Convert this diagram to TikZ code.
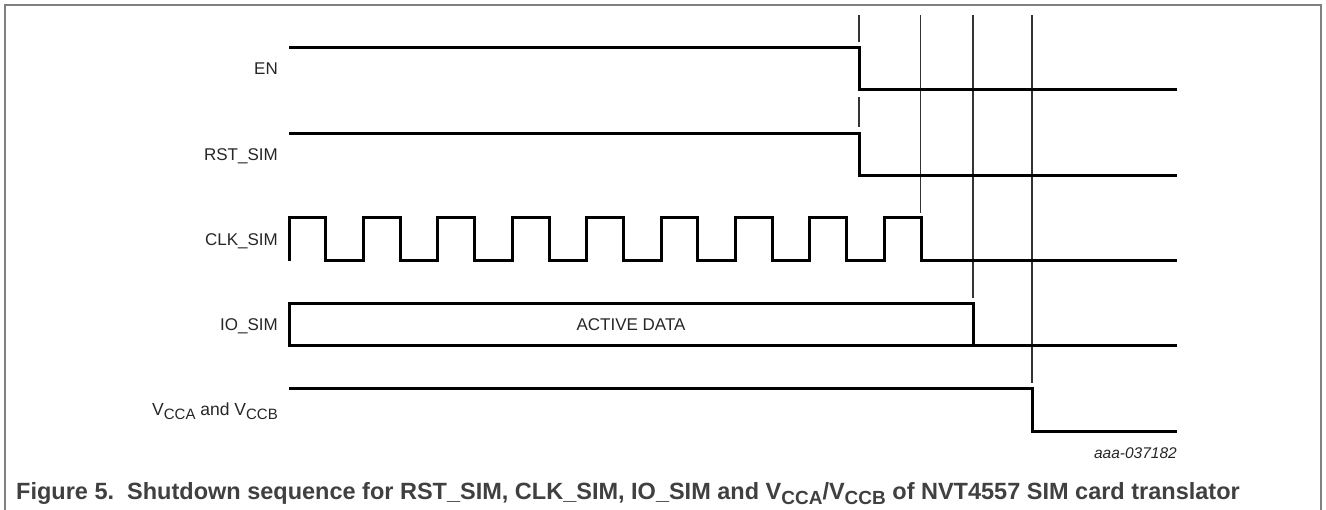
\documentclass[tikz,border=0pt]{standalone}
\usepackage{fontspec}
\setmainfont{Liberation Sans}
\newcommand\lowsub[3]{\raisebox{-#1}{\fontsize{#2}{#2}\selectfont #3}}
\begin{document}
\begin{tikzpicture}[x=1pt,y=-1pt,
  sig/.style={line width=3pt, line join=miter, black},
  markline/.style={line width=1.2pt, black!80},
  lbl/.style={anchor=base east, inner sep=0pt, text=black!85, font=\fontsize{17}{20}\selectfont},
  txt/.style={inner sep=0pt, text=black!85, font=\fontsize{17}{20}\selectfont}
]
\useasboundingbox (0,0) rectangle (1326,510);
% frame
\draw[gray, line width=1.5pt] (5,510) -- (5,5) -- (1321,5) -- (1321,510);
% time markers
\draw[markline] (859,15) -- (859,42);
\draw[markline] (859,97) -- (859,127);
\draw[markline] (920.5,15) -- (920.5,213);
\draw[markline] (973,15) -- (973,298);
\draw[markline] (1032,15) -- (1032,383);
% EN
\draw[sig] (289,47.5) -- (859,47.5) -- (859,89.5) -- (1177,89.5);
% RST_SIM
\draw[sig] (289,133.5) -- (859,133.5) -- (859,176) -- (1177,176);
% CLK_SIM
\draw[sig] (289,261) -- (289,218)
  \foreach \k in {0,...,7} { -- ++(36.8,0) -- ++(0,43) -- ++(37.6,0) -- ++(0,-43) }
  -- ++(36.8,0) -- ++(0,43) -- (1177,261);
% IO_SIM
\draw[sig] (973,346) -- (973,303.5) -- (289,303.5) -- (289,346) -- (1177,346);
% VCC
\draw[sig] (289,389) -- (1032,389) -- (1032,431.5) -- (1177,431.5);
% labels
\node[lbl] (en) at (278,74.5) {EN};
\node[lbl] (rst) at (278,161) {RST\_SIM};
\node[lbl] (clk) at (278,246) {CLK\_SIM};
\node[lbl] (io) at (278,331) {IO\_SIM};
\node[lbl, font=\fontsize{17.5}{20}\selectfont] (vcc) at (278,416) {V\lowsub{4pt}{15}{CCA} and V\lowsub{4pt}{15}{CCB}};
\node[txt, anchor=base] (ad) at (631,331) {ACTIVE DATA};
\node[anchor=base east, inner sep=0pt, text=black!85, font=\itshape\fontsize{15.5}{18}\selectfont] (id) at (1177,459) {aaa-037182};
\node[anchor=base west, inner sep=0pt, text=black!75, font=\bfseries\fontsize{23.5}{26}\selectfont] (cap) at (16,500)
  {Figure 5.\ \ Shutdown sequence for RST\_SIM, CLK\_SIM, IO\_SIM and V\lowsub{5pt}{19}{CCA}/V\lowsub{5pt}{19}{CCB} of NVT4557 SIM card translator};
\end{tikzpicture}
\end{document}
